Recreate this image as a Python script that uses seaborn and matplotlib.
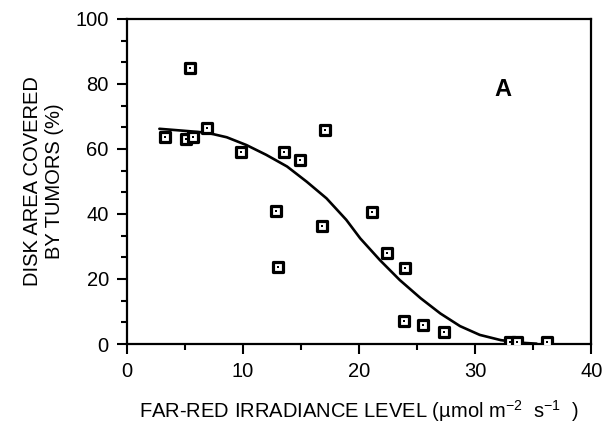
import numpy as np
import pandas as pd
import matplotlib
matplotlib.use("Agg")
import matplotlib.pyplot as plt
import seaborn as sns
from matplotlib.ticker import MultipleLocator, AutoMinorLocator

# datos medidos (irradiancia en rojo lejano vs. area del disco con tumores)
irradiance = [3.3, 5.06, 5.43, 5.66, 6.92, 9.83, 12.87, 13.04, 13.5, 14.9,
              16.8, 17.1, 21.15, 22.4, 23.85, 24.0, 25.5, 27.3, 33.0, 33.6, 36.2]
tumor_area = [63.6, 63.1, 84.8, 63.6, 66.5, 59.1, 40.9, 23.8, 59.2, 56.6,
              36.4, 65.8, 40.5, 28.0, 7.1, 23.4, 5.8, 3.8, 0.5, 0.5, 0.5]

# curva ajustada
curve_x = [2.8, 4.9, 6.9, 8.6, 10.3, 12.0, 13.8, 15.5, 17.2, 18.9, 20.1,
           21.8, 23.5, 25.3, 27.0, 28.7, 30.4, 32.2, 33.9, 35.3]
curve_y = [66.2, 65.6, 65.0, 63.6, 61.2, 58.2, 54.6, 49.9, 44.8, 38.2, 32.5,
           25.8, 19.7, 14.1, 9.4, 5.5, 2.8, 1.2, 0.4, 0.1]

df = pd.DataFrame({"x": irradiance, "y": tumor_area})
fit = pd.DataFrame({"x": curve_x, "y": curve_y})

sns.set_style("ticks")
plt.rcParams["font.family"] = ["Liberation Sans", "DejaVu Sans"]
plt.rcParams["mathtext.default"] = "regular"
plt.rcParams["text.color"] = "black"
plt.rcParams["axes.labelcolor"] = "black"

fig = plt.figure(figsize=(6.07, 4.30), dpi=100)
ax = fig.add_axes([0.209, 0.2, 0.765, 0.756])

sns.lineplot(data=fit, x="x", y="y", ax=ax, color="black", linewidth=1.9,
             sort=False)
sns.scatterplot(data=df, x="x", y="y", ax=ax, marker="s", s=60,
                facecolor="white", edgecolor="black", linewidth=2.3, zorder=3)
sns.scatterplot(data=df, x="x", y="y", ax=ax, marker="s", s=2,
                color="black", linewidth=0, zorder=4)

ax.set_xlim(0, 40)
ax.set_ylim(0, 100)
ax.xaxis.set_major_locator(MultipleLocator(10))
ax.xaxis.set_minor_locator(AutoMinorLocator(2))
ax.yaxis.set_major_locator(MultipleLocator(20))
ax.yaxis.set_minor_locator(AutoMinorLocator(3))

for s in ax.spines.values():
    s.set_linewidth(1.6)
    s.set_color("black")
ax.tick_params(which="major", length=7, width=1.5, labelsize=14.5, pad=6,
               colors="black")
ax.tick_params(which="minor", length=4, width=1.5, colors="black")

ax.set_xlabel("FAR-RED IRRADIANCE LEVEL (µmol m$^{-2}$  s$^{-1}$  )",
              fontsize=14.5, labelpad=12)
ax.set_ylabel("DISK AREA COVERED\nBY TUMORS (%)", fontsize=14.5, labelpad=8,
              linespacing=1.25)

ax.text(32.4, 78.2, "A", fontsize=17, fontweight="bold", ha="center",
        va="center")

fig.savefig("out.png", dpi=100)
